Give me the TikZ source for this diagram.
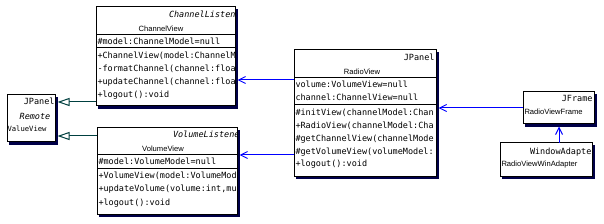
\documentclass[tikz,border=0pt]{standalone}
\usepackage{fontspec}
\setmonofont{DejaVu Sans Mono}
\setsansfont{Liberation Sans}
\usetikzlibrary{arrows.meta,shadows}
\definecolor{shadowc}{HTML}{000048}
\definecolor{assoc}{HTML}{0000FF}
\definecolor{gencol}{HTML}{004040}
\tikzset{
 umlbox/.style={draw=black,line width=1pt,fill=white,inner sep=0pt,outer sep=0pt,anchor=north west,
   copy shadow={shadow xshift=2.5pt,shadow yshift=-2.5pt,fill=shadowc,draw=shadowc}},
 mtxt/.style={inner sep=0pt,outer sep=0pt,font=\ttfamily\fontsize{8.5}{10}\selectfont,anchor=base west},
 itxt/.style={mtxt,font=\ttfamily\itshape\fontsize{8.5}{10}\selectfont},
 ntxt/.style={inner sep=0pt,outer sep=0pt,font=\sffamily\fontsize{7.6}{9}\selectfont,anchor=base},
 sepline/.style={draw=black,line width=1pt},
 assocarrow/.style={draw=assoc,line width=1pt,-{Straight Barb[length=7pt,width=7pt]}},
 genarrow/.style={draw=gencol,line width=1pt,-{Triangle[open,length=12pt,width=8pt,fill=white]}},
}
\begin{document}
\begin{tikzpicture}[x=1pt,y=-1pt]
\useasboundingbox (0,0) rectangle (604,224);

% Remote
\node[umlbox,minimum width=48pt,minimum height=47pt] (rm) at (7,95) {};
\begin{scope}
\clip ([xshift=.5pt,yshift=-.5pt]rm.north west) rectangle ([xshift=-.5pt,yshift=.5pt]rm.south east);
\node[mtxt,anchor=base east] (rmst) at (54.5,105) {JPanel};
\node[itxt,anchor=base] (rmif) at (35,120) {Remote};
\node[mtxt,font=\ttfamily\fontsize{7.2}{9}\selectfont] (rmnm) at (7.5,132) {ValueView};
\end{scope}

% ChannelView
\node[umlbox,minimum width=139pt,minimum height=99pt] (cv) at (96,7) {};
\begin{scope}
\clip ([xshift=.5pt,yshift=-.5pt]cv.north west) rectangle ([xshift=-.5pt,yshift=.5pt]cv.south east);
\node[itxt] (cvif) at (169,18) {ChannelListener};
\node[ntxt] (cvnm) at (161,32) {ChannelView};
\node[mtxt] (cva1) at (97.5,44.5) {\#model:ChannelModel=null};
\node[mtxt] (cvm1) at (97.5,58.5) {+ChannelView(model:ChannelM};
\node[mtxt] (cvm2) at (97.5,71.5) {-formatChannel(channel:float};
\node[mtxt] (cvm3) at (97.5,84.5) {+updateChannel(channel:float};
\node[mtxt] (cvm4) at (97.5,97.5) {+logout():void};
\end{scope}
\draw[sepline] (cv.west |- 0,34.5) -- (cv.east |- 0,34.5);
\draw[sepline] (cv.west |- 0,48) -- (cv.east |- 0,48);

% VolumeView
\node[umlbox,minimum width=140pt,minimum height=86pt] (vv) at (97,128) {};
\begin{scope}
\clip ([xshift=.5pt,yshift=-.5pt]vv.north west) rectangle ([xshift=-.5pt,yshift=.5pt]vv.south east);
\node[itxt] (vvif) at (173,138) {VolumeListener};
\node[ntxt] (vvnm) at (163,151.5) {VolumeView};
\node[mtxt] (vva1) at (98.5,164.5) {\#model:VolumeModel=null};
\node[mtxt] (vvm1) at (98.5,178.5) {+VolumeView(model:VolumeMod};
\node[mtxt] (vvm2) at (98.5,191.5) {+updateVolume(volume:int,mu};
\node[mtxt] (vvm3) at (98.5,205) {+logout():void};
\end{scope}
\draw[sepline] (vv.west |- 0,155) -- (vv.east |- 0,155);
\draw[sepline] (vv.west |- 0,168) -- (vv.east |- 0,168);

% RadioView
\node[umlbox,minimum width=142pt,minimum height=126pt] (rv) at (294,50) {};
\begin{scope}
\clip ([xshift=.5pt,yshift=-.5pt]rv.north west) rectangle ([xshift=-.5pt,yshift=.5pt]rv.south east);
\node[mtxt,anchor=base east] (rvst) at (434.5,60.5) {JPanel};
\node[ntxt] (rvnm) at (362,75) {RadioView};
\node[mtxt] (rva1) at (295.5,88) {volume:VolumeView=null};
\node[mtxt] (rva2) at (295.5,100.5) {channel:ChannelView=null};
\node[mtxt] (rvm1) at (295.5,116) {\#initView(channelModel:Chan};
\node[mtxt] (rvm2) at (295.5,129) {+RadioView(channelModel:Cha};
\node[mtxt] (rvm3) at (295.5,142) {\#getChannelView(channelMode};
\node[mtxt] (rvm4) at (295.5,154.5) {\#getVolumeView(volumeModel:};
\node[mtxt] (rvm5) at (295.5,167) {+logout():void};
\end{scope}
\draw[sepline] (rv.west |- 0,77.5) -- (rv.east |- 0,77.5);
\draw[sepline] (rv.west |- 0,104.5) -- (rv.east |- 0,104.5);

% RadioViewFrame
\node[umlbox,minimum width=71pt,minimum height=32pt] (fr) at (523,92) {};
\begin{scope}
\clip ([xshift=.5pt,yshift=-.5pt]fr.north west) rectangle ([xshift=-.5pt,yshift=.5pt]fr.south east);
\node[mtxt,anchor=base east] (frst) at (592.5,101.5) {JFrame};
\node[ntxt,anchor=base west] (frnm) at (524.5,115) {RadioViewFrame};
\end{scope}

% RadioViewWinAdapter
\node[umlbox,minimum width=92pt,minimum height=33pt] (wa) at (500,143) {};
\begin{scope}
\clip ([xshift=.5pt,yshift=-.5pt]wa.north west) rectangle ([xshift=-.5pt,yshift=.5pt]wa.south east);
\node[mtxt] (wast) at (530,154) {WindowAdapter};
\node[ntxt,anchor=base west] (wanm) at (501.5,167) {RadioViewWinAdapter};
\end{scope}

% connectors
\coordinate (rmE) at ([xshift=2.5pt]rm.east);
\coordinate (cvE) at ([xshift=2.5pt]cv.east);
\coordinate (vvE) at ([xshift=2.5pt]vv.east);
\coordinate (rvE) at ([xshift=2.5pt]rv.east);
\coordinate (frS) at ([yshift=-2.5pt]fr.south);

\draw[genarrow] (cv.west |- 0,102) -- (rmE |- 0,102);
\draw[genarrow] (vv.west |- 0,136) -- (rmE |- 0,136);
\draw[assocarrow] (rv.west |- 0,80) -- (cvE |- 0,80);
\draw[assocarrow] (rv.west |- 0,155) -- (vvE |- 0,155);
\draw[assocarrow] (fr.west |- 0,108) -- (rvE |- 0,108);
\draw[assocarrow] (wa.north -| 559,0) -- (frS -| 559,0);
\end{tikzpicture}
\end{document}
